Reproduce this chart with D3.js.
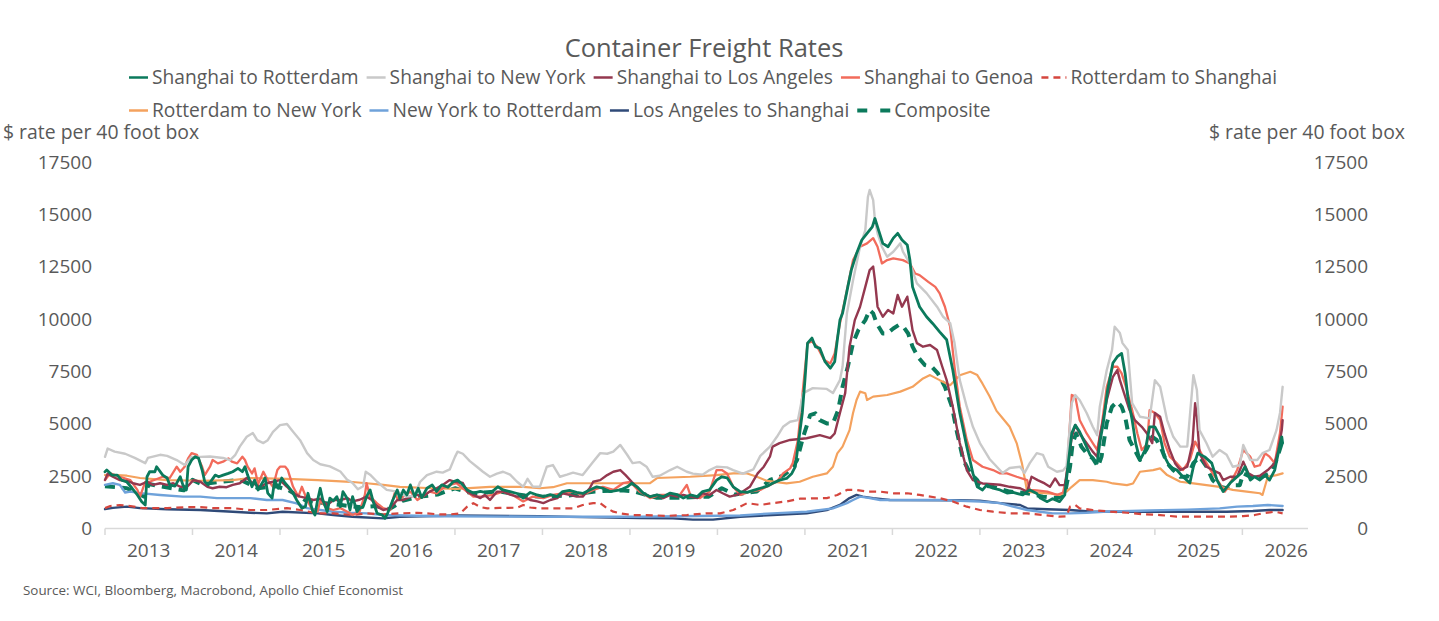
<!DOCTYPE html>
<html><head><meta charset="utf-8">
<script src="https://cdn.jsdelivr.net/npm/d3@7"></script>
<style>
html,body{margin:0;padding:0;background:#fff;}
svg text{font-family:"Open Sans","Noto Sans",sans-serif;fill:#595959;}
</style></head><body>
<svg id="chart" width="1439" height="621"></svg>
<script>
// ---------- DATA (decimal year, $ per 40ft box) ----------
const titleText = "Container Freight Rates";
const axisLabel = "$ rate per 40 foot box";
const sourceText = "Source: WCI, Bloomberg, Macrobond, Apollo Chief Economist";
const yTicks = [0, 2500, 5000, 7500, 10000, 12500, 15000, 17500];
const yearTicks = [2013,2014,2015,2016,2017,2018,2019,2020,2021,2022,2023,2024,2025,2026];

const shanghaiRotterdam = [[2013.00,2690],[2013.02,2770],[2013.08,2530],[2013.14,2530],[2013.19,2290],[2013.25,2200],[2013.31,1900],[2013.37,1580],[2013.42,1260],[2013.46,1100],[2013.48,2450],[2013.51,2690],[2013.57,2690],[2013.59,2930],[2013.66,2530],[2013.71,2390],[2013.74,2060],[2013.80,2000],[2013.86,2450],[2013.89,2060],[2013.93,1820],[2013.95,2930],[2013.99,3250],[2014.03,3410],[2014.07,3330],[2014.11,2770],[2014.14,2210],[2014.18,2060],[2014.22,2290],[2014.26,2530],[2014.30,2450],[2014.35,2530],[2014.41,2610],[2014.46,2690],[2014.52,2850],[2014.57,2690],[2014.60,2930],[2014.63,2530],[2014.68,1970],[2014.71,2290],[2014.75,1820],[2014.79,2100],[2014.83,2390],[2014.86,1670],[2014.91,1430],[2014.94,2290],[2014.98,1900],[2015.02,2390],[2015.06,2140],[2015.09,2000],[2015.14,1740],[2015.19,1340],[2015.25,950],[2015.29,1020],[2015.32,1660],[2015.37,860],[2015.40,620],[2015.43,1340],[2015.46,1900],[2015.49,1340],[2015.54,780],[2015.57,1430],[2015.61,1300],[2015.65,1500],[2015.69,1020],[2015.72,1740],[2015.77,1400],[2015.80,860],[2015.83,1500],[2015.88,780],[2015.91,950],[2015.95,1020],[2015.99,1500],[2016.03,1820],[2016.06,1340],[2016.11,700],[2016.17,620],[2016.20,460],[2016.23,700],[2016.29,1340],[2016.34,1820],[2016.37,1400],[2016.41,1820],[2016.45,1580],[2016.49,2060],[2016.54,1500],[2016.58,1900],[2016.62,1450],[2016.68,1900],[2016.74,2060],[2016.79,1750],[2016.85,2060],[2016.92,1950],[2016.98,2210],[2017.03,2290],[2017.08,2100],[2017.14,1820],[2017.21,1670],[2017.29,1750],[2017.37,1680],[2017.43,1750],[2017.49,1970],[2017.55,1820],[2017.63,1740],[2017.71,1650],[2017.78,1430],[2017.86,1700],[2017.94,1580],[2018.01,1500],[2018.09,1600],[2018.17,1500],[2018.23,1740],[2018.31,1800],[2018.39,1700],[2018.46,1650],[2018.54,1820],[2018.62,1970],[2018.69,1900],[2018.77,1740],[2018.89,1820],[2018.97,1970],[2019.02,2140],[2019.08,1970],[2019.15,1670],[2019.23,1500],[2019.31,1580],[2019.38,1500],[2019.46,1670],[2019.54,1600],[2019.61,1430],[2019.69,1580],[2019.77,1500],[2019.83,1740],[2019.91,1820],[2019.99,2290],[2020.05,2450],[2020.11,2400],[2020.18,1970],[2020.26,1740],[2020.34,1700],[2020.41,1800],[2020.49,1900],[2020.57,2000],[2020.63,2140],[2020.71,2290],[2020.79,2370],[2020.85,2610],[2020.89,2930],[2020.92,3890],[2020.97,5500],[2021.00,7070],[2021.03,8840],[2021.08,9080],[2021.12,8670],[2021.17,8590],[2021.23,7950],[2021.29,7640],[2021.34,7950],[2021.37,8990],[2021.40,9940],[2021.43,10270],[2021.49,11530],[2021.53,12330],[2021.59,13130],[2021.65,13770],[2021.71,14090],[2021.77,14400],[2021.80,14800],[2021.83,14400],[2021.89,13610],[2021.95,13450],[2022.01,13860],[2022.06,14090],[2022.11,13770],[2022.17,13530],[2022.20,12810],[2022.23,11530],[2022.31,10580],[2022.39,10100],[2022.46,9780],[2022.54,9380],[2022.62,9000],[2022.69,7550],[2022.77,5500],[2022.85,3890],[2022.92,2610],[2022.97,1970],[2023.03,1820],[2023.08,2060],[2023.15,1900],[2023.23,1820],[2023.31,1670],[2023.38,1700],[2023.49,1580],[2023.57,1820],[2023.65,1650],[2023.69,1430],[2023.77,1260],[2023.83,1400],[2023.91,1260],[2023.97,1580],[2024.01,3100],[2024.05,4540],[2024.09,4920],[2024.14,4600],[2024.20,4060],[2024.26,3490],[2024.34,3100],[2024.37,4060],[2024.41,5020],[2024.46,6600],[2024.52,7890],[2024.57,8190],[2024.62,8350],[2024.66,7390],[2024.69,6280],[2024.74,5160],[2024.78,4060],[2024.83,3250],[2024.89,3730],[2024.94,4840],[2025.00,4840],[2025.06,4360],[2025.11,3410],[2025.17,2930],[2025.25,2770],[2025.32,2450],[2025.40,2150],[2025.44,2930],[2025.49,3580],[2025.57,3400],[2025.65,3100],[2025.71,2290],[2025.78,1740],[2025.86,2150],[2025.94,2450],[2025.99,2630],[2026.03,2930],[2026.09,2290],[2026.14,2450],[2026.20,2290],[2026.26,2530],[2026.31,2290],[2026.37,2770],[2026.41,3580],[2026.45,4360],[2026.46,4060]];

const shanghaiNewYork = [[2013.00,3400],[2013.03,3800],[2013.11,3650],[2013.23,3550],[2013.34,3350],[2013.46,3100],[2013.49,3350],[2013.63,3500],[2013.71,3450],[2013.82,3250],[2013.91,3010],[2013.99,3400],[2014.09,3400],[2014.20,3420],[2014.35,3350],[2014.43,3250],[2014.49,3500],[2014.54,3890],[2014.62,4360],[2014.69,4540],[2014.74,4200],[2014.81,4060],[2014.86,4200],[2014.92,4600],[2015.00,4920],[2015.08,4970],[2015.15,4600],[2015.23,4200],[2015.31,3580],[2015.38,3250],[2015.46,3050],[2015.57,2950],[2015.69,2700],[2015.77,2300],[2015.83,2150],[2015.89,1850],[2015.95,2000],[2015.98,2690],[2016.03,2550],[2016.11,2210],[2016.22,1820],[2016.34,1740],[2016.45,1500],[2016.54,1550],[2016.60,2200],[2016.68,2530],[2016.79,2690],[2016.86,2650],[2016.94,2800],[2017.00,3400],[2017.03,3650],[2017.09,3550],[2017.17,3200],[2017.25,2930],[2017.32,2690],[2017.40,2450],[2017.48,2600],[2017.55,2690],[2017.63,2550],[2017.71,2210],[2017.78,1970],[2017.83,2350],[2017.89,1980],[2017.97,1970],[2018.05,2930],[2018.12,3010],[2018.20,2450],[2018.28,2550],[2018.35,2650],[2018.46,2530],[2018.58,3170],[2018.66,3580],[2018.74,3550],[2018.81,3650],[2018.89,3970],[2018.97,3490],[2019.03,3100],[2019.11,3150],[2019.19,2930],[2019.26,2450],[2019.34,2500],[2019.46,2770],[2019.54,2930],[2019.65,2690],[2019.72,2600],[2019.83,2550],[2019.91,2770],[2019.99,2930],[2020.11,2900],[2020.18,2770],[2020.29,2600],[2020.41,2800],[2020.49,3450],[2020.60,3890],[2020.68,4360],[2020.75,4840],[2020.83,5080],[2020.92,5160],[2020.98,6450],[2021.09,6690],[2021.25,6650],[2021.32,6450],[2021.40,7070],[2021.43,7710],[2021.48,10270],[2021.55,11850],[2021.63,13450],[2021.69,14240],[2021.72,15830],[2021.74,16160],[2021.78,15680],[2021.80,14720],[2021.83,14090],[2021.88,13450],[2021.94,12970],[2022.01,13210],[2022.09,13610],[2022.12,13210],[2022.20,12650],[2022.28,11700],[2022.39,11230],[2022.51,10580],[2022.58,10100],[2022.66,9800],[2022.71,8840],[2022.77,7070],[2022.85,5800],[2022.92,4840],[2023.00,4060],[2023.11,3300],[2023.26,2630],[2023.34,2870],[2023.46,2930],[2023.51,2630],[2023.57,3100],[2023.65,3580],[2023.72,3500],[2023.78,2930],[2023.88,2690],[2023.95,2750],[2023.99,2950],[2024.05,5970],[2024.09,6360],[2024.14,6120],[2024.22,5500],[2024.29,4840],[2024.34,4440],[2024.37,5800],[2024.45,7550],[2024.51,8510],[2024.54,9620],[2024.60,9320],[2024.63,8840],[2024.69,8510],[2024.74,5970],[2024.83,5320],[2024.94,5240],[2025.00,7070],[2025.06,6750],[2025.14,5160],[2025.21,4360],[2025.29,3890],[2025.37,3900],[2025.44,7310],[2025.48,6600],[2025.51,4680],[2025.59,4050],[2025.66,3410],[2025.74,3730],[2025.82,3500],[2025.89,2930],[2025.97,3000],[2026.01,3970],[2026.09,3250],[2026.17,3250],[2026.23,3580],[2026.31,3730],[2026.39,4680],[2026.43,5500],[2026.46,6750]];

const shanghaiLosAngeles = [[2013.00,2300],[2013.03,2600],[2013.09,2450],[2013.17,2290],[2013.25,2250],[2013.32,2140],[2013.40,2060],[2013.48,2210],[2013.55,2060],[2013.63,2140],[2013.71,2060],[2013.78,2140],[2013.86,1970],[2013.94,1970],[2014.01,2290],[2014.09,2210],[2014.17,1970],[2014.23,1900],[2014.31,1970],[2014.39,1950],[2014.46,2060],[2014.54,2140],[2014.62,2390],[2014.69,2140],[2014.77,1970],[2014.85,2140],[2014.92,2210],[2015.00,2290],[2015.08,1970],[2015.15,1660],[2015.23,1500],[2015.31,1430],[2015.38,1340],[2015.46,1400],[2015.54,1100],[2015.61,1340],[2015.69,1340],[2015.77,1430],[2015.83,1270],[2015.91,1350],[2015.99,1500],[2016.05,1340],[2016.11,1020],[2016.18,860],[2016.26,950],[2016.34,1340],[2016.41,1340],[2016.49,1500],[2016.57,1580],[2016.63,1500],[2016.71,1740],[2016.79,1900],[2016.86,2060],[2016.94,2290],[2017.00,2210],[2017.09,2150],[2017.14,1740],[2017.21,1580],[2017.29,1430],[2017.34,1580],[2017.40,1340],[2017.48,1740],[2017.55,1740],[2017.63,1600],[2017.71,1500],[2017.78,1500],[2017.86,1340],[2017.94,1270],[2018.01,1190],[2018.09,1340],[2018.17,1430],[2018.23,1660],[2018.31,1580],[2018.39,1500],[2018.46,1500],[2018.54,1900],[2018.58,2210],[2018.66,2290],[2018.74,2530],[2018.81,2690],[2018.89,2770],[2018.95,2530],[2019.02,2210],[2019.08,1970],[2019.15,1670],[2019.23,1500],[2019.31,1580],[2019.38,1430],[2019.46,1580],[2019.54,1500],[2019.61,1580],[2019.69,1500],[2019.77,1430],[2019.83,1660],[2019.91,1580],[2019.99,1820],[2020.06,1660],[2020.14,1500],[2020.22,1580],[2020.29,1740],[2020.37,1970],[2020.46,2610],[2020.53,2930],[2020.60,3410],[2020.63,3890],[2020.71,4060],[2020.83,4210],[2021.02,4290],[2021.17,4440],[2021.29,4300],[2021.34,4520],[2021.40,5500],[2021.46,6450],[2021.51,8670],[2021.57,9940],[2021.63,10580],[2021.69,11530],[2021.74,12330],[2021.78,12500],[2021.80,11850],[2021.83,10580],[2021.89,10100],[2021.95,10420],[2022.01,10260],[2022.06,11140],[2022.11,10580],[2022.17,11060],[2022.20,10260],[2022.23,9460],[2022.28,8840],[2022.35,8670],[2022.43,8750],[2022.51,8510],[2022.57,7710],[2022.62,7070],[2022.69,5800],[2022.77,4060],[2022.85,2770],[2022.92,2290],[2023.03,2130],[2023.23,2070],[2023.34,1970],[2023.46,1900],[2023.54,1740],[2023.59,2450],[2023.66,2290],[2023.74,2130],[2023.80,1970],[2023.86,2370],[2023.91,2050],[2023.97,2050],[2024.01,3100],[2024.05,4360],[2024.09,4920],[2024.14,4520],[2024.22,4060],[2024.29,3650],[2024.34,3410],[2024.37,4360],[2024.45,6120],[2024.52,7230],[2024.57,7550],[2024.60,7070],[2024.63,6680],[2024.71,5640],[2024.77,5160],[2024.85,4840],[2024.91,4520],[2024.97,4060],[2025.00,5500],[2025.06,5320],[2025.11,4520],[2025.17,3730],[2025.23,3100],[2025.29,2770],[2025.37,2930],[2025.43,4060],[2025.46,5970],[2025.48,5320],[2025.51,3570],[2025.59,2930],[2025.66,2770],[2025.74,2610],[2025.78,2290],[2025.86,2450],[2025.94,2450],[2026.01,3170],[2026.07,2610],[2026.14,2450],[2026.20,2500],[2026.29,2770],[2026.37,3100],[2026.41,3730],[2026.45,4680],[2026.46,5160]];

const shanghaiGenoa = [[2013.00,2290],[2013.06,2610],[2013.17,2450],[2013.29,2290],[2013.37,1820],[2013.40,1500],[2013.46,2210],[2013.51,2210],[2013.66,2450],[2013.74,2390],[2013.82,2930],[2013.86,2690],[2013.91,2930],[2013.95,3330],[2013.99,3580],[2014.05,3500],[2014.11,2930],[2014.14,2530],[2014.20,2930],[2014.23,3250],[2014.29,3090],[2014.35,3170],[2014.41,3330],[2014.45,3170],[2014.51,3090],[2014.57,3410],[2014.60,3250],[2014.63,2930],[2014.68,2610],[2014.71,2850],[2014.75,2100],[2014.81,2690],[2014.86,2290],[2014.92,1970],[2014.97,2770],[2015.00,2930],[2015.06,2930],[2015.09,2770],[2015.15,1970],[2015.21,1500],[2015.25,1970],[2015.31,1340],[2015.37,860],[2015.43,780],[2015.46,1300],[2015.54,950],[2015.61,860],[2015.69,950],[2015.77,780],[2015.83,620],[2015.91,780],[2015.97,1580],[2015.99,2140],[2016.03,1500],[2016.11,1180],[2016.18,950],[2016.26,860],[2016.31,1660],[2016.35,1340],[2016.41,1500],[2016.49,1740],[2016.57,1340],[2016.63,1500],[2016.71,1740],[2016.79,1660],[2016.86,1900],[2016.94,2060],[2017.02,2140],[2017.09,1900],[2017.21,1500],[2017.32,1500],[2017.43,1580],[2017.55,1740],[2017.66,1580],[2017.78,1270],[2017.89,1500],[2018.01,1430],[2018.12,1580],[2018.23,1660],[2018.35,1740],[2018.46,1580],[2018.58,1820],[2018.69,1970],[2018.81,1820],[2018.92,2140],[2019.00,2210],[2019.11,1740],[2019.23,1430],[2019.34,1580],[2019.46,1580],[2019.57,1580],[2019.65,2060],[2019.69,1580],[2019.80,1430],[2019.91,1740],[2019.99,2770],[2020.05,2770],[2020.11,2610],[2020.18,1970],[2020.26,1580],[2020.37,1740],[2020.49,1820],[2020.60,2060],[2020.68,2210],[2020.75,2610],[2020.83,2850],[2020.86,3090],[2020.92,4210],[2020.98,6750],[2021.03,8840],[2021.08,8920],[2021.14,8670],[2021.22,8030],[2021.29,7870],[2021.34,8350],[2021.40,9780],[2021.48,11370],[2021.55,12810],[2021.63,13450],[2021.71,13610],[2021.78,13860],[2021.83,13450],[2021.88,12650],[2021.94,12810],[2022.01,12890],[2022.12,12810],[2022.20,12650],[2022.26,12170],[2022.31,12090],[2022.41,11770],[2022.49,11530],[2022.54,11220],[2022.60,10580],[2022.66,9620],[2022.71,7710],[2022.77,5800],[2022.85,4210],[2022.92,3250],[2023.03,2930],[2023.15,2770],[2023.23,2610],[2023.31,2610],[2023.42,2450],[2023.54,2290],[2023.57,1820],[2023.65,1800],[2023.77,1740],[2023.88,1580],[2023.95,1700],[2023.99,2450],[2024.05,6360],[2024.09,6280],[2024.14,5160],[2024.22,4520],[2024.29,4060],[2024.34,3730],[2024.39,4840],[2024.45,6750],[2024.52,7710],[2024.57,7710],[2024.62,7390],[2024.68,6600],[2024.74,5640],[2024.80,4520],[2024.85,3730],[2024.91,4000],[2024.94,5640],[2025.00,5500],[2025.06,5160],[2025.11,4060],[2025.17,3410],[2025.25,3100],[2025.32,2770],[2025.40,3250],[2025.46,4130],[2025.51,3730],[2025.59,3100],[2025.66,2610],[2025.74,2130],[2025.80,1740],[2025.88,2290],[2025.94,2770],[2026.01,3730],[2026.09,3410],[2026.14,2930],[2026.20,3000],[2026.26,3570],[2026.31,3410],[2026.37,3100],[2026.43,4540],[2026.46,5800]];

const rotterdamShanghai = [[2013.00,950],[2013.06,1050],[2013.17,1100],[2013.29,1050],[2013.43,950],[2013.71,950],[2013.94,1000],[2014.09,1000],[2014.23,950],[2014.46,950],[2014.66,860],[2014.85,860],[2015.08,950],[2015.23,860],[2015.43,700],[2015.61,700],[2015.83,620],[2015.99,700],[2016.18,650],[2016.37,700],[2016.57,730],[2016.83,650],[2016.94,650],[2017.06,700],[2017.14,1020],[2017.21,1190],[2017.29,1000],[2017.37,940],[2017.51,960],[2017.71,970],[2017.78,1100],[2017.86,980],[2017.97,940],[2018.17,940],[2018.35,940],[2018.46,1100],[2018.58,1190],[2018.66,1190],[2018.74,940],[2018.81,780],[2018.89,700],[2019.03,620],[2019.19,620],[2019.42,580],[2019.65,620],[2019.88,700],[2020.03,700],[2020.11,780],[2020.18,860],[2020.26,1020],[2020.34,1190],[2020.49,1100],[2020.63,1190],[2020.79,1270],[2020.94,1400],[2021.25,1430],[2021.37,1580],[2021.48,1820],[2021.59,1820],[2021.71,1740],[2021.86,1740],[2022.01,1660],[2022.17,1660],[2022.31,1580],[2022.54,1430],[2022.69,1270],[2022.85,1020],[2023.00,860],[2023.15,780],[2023.34,700],[2023.54,700],[2023.72,620],[2023.91,540],[2023.99,560],[2024.03,1020],[2024.09,1100],[2024.14,940],[2024.29,860],[2024.49,780],[2024.68,730],[2024.86,660],[2025.06,620],[2025.25,540],[2025.44,540],[2025.63,540],[2025.82,540],[2026.01,570],[2026.14,620],[2026.23,700],[2026.37,780],[2026.46,700]];

const rotterdamNewYork = [[2013.00,2530],[2013.14,2530],[2013.25,2500],[2013.40,2390],[2013.71,2290],[2014.09,2260],[2014.46,2290],[2014.66,2390],[2015.08,2350],[2015.43,2290],[2015.80,2210],[2015.99,2140],[2016.18,2060],[2016.37,1970],[2016.75,1900],[2017.02,1870],[2017.40,1970],[2017.78,1970],[2017.97,1900],[2018.12,1950],[2018.28,2140],[2018.74,2140],[2019.23,2140],[2019.31,2390],[2019.69,2450],[2019.99,2530],[2020.18,2610],[2020.34,2610],[2020.45,2450],[2020.57,2250],[2020.79,2130],[2020.94,2210],[2021.09,2450],[2021.25,2610],[2021.32,2930],[2021.37,3570],[2021.43,3890],[2021.51,4680],[2021.55,5500],[2021.59,6120],[2021.63,6520],[2021.69,6440],[2021.71,6120],[2021.78,6280],[2021.94,6360],[2022.09,6520],[2022.23,6750],[2022.35,7150],[2022.43,7310],[2022.54,7070],[2022.66,6830],[2022.77,7300],[2022.89,7470],[2022.97,7310],[2023.03,6900],[2023.11,6300],[2023.19,5600],[2023.26,5250],[2023.34,4840],[2023.42,4060],[2023.48,3100],[2023.54,1740],[2023.61,1700],[2023.77,1660],[2023.91,1580],[2023.99,1740],[2024.05,1970],[2024.14,2290],[2024.29,2290],[2024.45,2210],[2024.52,2130],[2024.68,2050],[2024.75,2130],[2024.83,2690],[2024.98,2770],[2025.06,2850],[2025.14,2530],[2025.29,2210],[2025.44,2130],[2025.59,2050],[2025.74,1970],[2025.89,1820],[2026.05,1740],[2026.20,1660],[2026.23,1580],[2026.29,2450],[2026.39,2530],[2026.46,2610]];

const newYorkRotterdam = [[2013.00,2060],[2013.09,2140],[2013.17,2060],[2013.23,1700],[2013.29,1740],[2013.40,1670],[2013.63,1580],[2013.89,1500],[2014.09,1500],[2014.28,1430],[2014.66,1430],[2014.85,1340],[2015.03,1340],[2015.19,1180],[2015.31,950],[2015.46,860],[2015.61,780],[2015.80,730],[2015.99,700],[2016.18,620],[2016.83,560],[2017.97,540],[2019.11,540],[2020.26,600],[2020.63,700],[2021.02,780],[2021.32,940],[2021.48,1190],[2021.55,1340],[2021.63,1500],[2021.71,1450],[2021.86,1340],[2022.54,1340],[2023.00,1270],[2023.23,1190],[2023.38,1020],[2023.54,860],[2023.69,780],[2023.83,700],[2024.03,700],[2024.22,730],[2024.41,780],[2024.94,840],[2025.37,880],[2025.74,940],[2025.94,1020],[2026.12,1050],[2026.29,1100],[2026.46,1050]];

const losAngelesShanghai = [[2013.00,900],[2013.09,960],[2013.25,1020],[2013.40,950],[2013.71,900],[2014.09,860],[2014.46,780],[2014.66,730],[2014.85,700],[2015.03,780],[2015.43,700],[2015.61,620],[2015.83,540],[2016.18,460],[2016.37,540],[2017.02,600],[2017.97,560],[2018.46,520],[2019.11,480],[2019.49,460],[2019.72,400],[2019.95,400],[2020.26,540],[2020.63,620],[2021.02,700],[2021.25,860],[2021.40,1100],[2021.51,1430],[2021.59,1580],[2021.66,1500],[2021.78,1430],[2021.97,1340],[2022.77,1330],[2023.00,1300],[2023.23,1190],[2023.46,1100],[2023.54,940],[2023.77,900],[2024.03,860],[2024.29,780],[2025.82,780],[2026.12,810],[2026.31,860],[2026.46,860]];

const composite = [[2013.00,2000],[2013.25,1900],[2013.45,1500],[2013.50,2100],[2013.70,1950],[2013.90,1800],[2014.00,2300],[2014.10,2100],[2014.30,2200],[2014.55,2300],[2014.75,1900],[2014.95,2000],[2015.10,1800],[2015.30,1300],[2015.50,1200],[2015.70,1100],[2015.90,1000],[2016.10,1050],[2016.25,900],[2016.40,1300],[2016.60,1500],[2016.80,1600],[2017.00,1900],[2017.20,1650],[2017.50,1750],[2017.80,1550],[2018.00,1500],[2018.30,1550],[2018.60,1750],[2018.90,1800],[2019.05,1750],[2019.30,1450],[2019.60,1450],[2019.90,1500],[2020.05,1900],[2020.20,1600],[2020.45,1750],[2020.60,2300],[2020.75,2500],[2020.83,2770],[2020.91,3250],[2020.98,4360],[2021.06,5400],[2021.12,5480],[2021.17,5160],[2021.25,5000],[2021.32,5000],[2021.38,5640],[2021.43,6750],[2021.49,7710],[2021.55,8840],[2021.61,9460],[2021.69,9940],[2021.74,10420],[2021.78,10260],[2021.82,9780],[2021.89,9300],[2021.94,9300],[2022.01,9540],[2022.07,9700],[2022.12,9650],[2022.18,9300],[2022.23,8670],[2022.29,8190],[2022.37,7790],[2022.45,7710],[2022.52,7390],[2022.60,6750],[2022.68,5800],[2022.74,4540],[2022.81,3250],[2022.89,2610],[2022.97,2290],[2023.00,2060],[2023.15,1970],[2023.34,1740],[2023.54,1660],[2023.72,1500],[2023.88,1430],[2023.97,1600],[2024.03,2930],[2024.06,4060],[2024.10,4520],[2024.16,3890],[2024.22,3570],[2024.29,3330],[2024.35,2930],[2024.39,3410],[2024.45,5020],[2024.51,5800],[2024.57,6040],[2024.62,5800],[2024.66,5320],[2024.71,4210],[2024.77,3730],[2024.83,3250],[2024.91,3800],[2024.97,4360],[2025.02,4210],[2025.08,3730],[2025.14,3100],[2025.21,2770],[2025.29,2450],[2025.37,2450],[2025.44,3100],[2025.51,3410],[2025.59,2930],[2025.66,2290],[2025.74,1970],[2025.82,1900],[2025.89,2050],[2025.97,2050],[2026.01,2610],[2026.09,2450],[2026.17,2290],[2026.23,2450],[2026.31,2610],[2026.39,3250],[2026.45,4060],[2026.46,4360]];

const seriesNames = ["Shanghai to Rotterdam","Shanghai to New York","Shanghai to Los Angeles","Shanghai to Genoa","Rotterdam to Shanghai","Rotterdam to New York","New York to Rotterdam","Los Angeles to Shanghai","Composite"];
const seriesValues = [shanghaiRotterdam, shanghaiNewYork, shanghaiLosAngeles, shanghaiGenoa, rotterdamShanghai, rotterdamNewYork, newYorkRotterdam, losAngelesShanghai, composite];

// ---------- STYLES ----------
const styles = [
  {color:"#0b7a5c", width:2.8, dash:null},
  {color:"#c9c9c9", width:2.4, dash:null},
  {color:"#94384f", width:2.4, dash:null},
  {color:"#f26b5b", width:2.3, dash:null},
  {color:"#d5463e", width:2.2, dash:"7,5"},
  {color:"#f4a25e", width:2.2, dash:null},
  {color:"#6fa2da", width:2.4, dash:null},
  {color:"#2f4a78", width:2.4, dash:null},
  {color:"#0b7a5c", width:4, dash:"10,7"}
];

// ---------- DRAW ----------
const svg = d3.select("#chart");
const x = d3.scaleLinear().domain([2013, 2026.75]).range([105, 1308]);
const y = d3.scaleLinear().domain([0, 17500]).range([528, 162]);

// title
svg.append("text").attr("x", 704).attr("y", 57).attr("text-anchor","middle")
  .style("font-size","25.5px").text(titleText);

// axis titles
svg.append("text").attr("x", 3).attr("y", 139).style("font-size","19.4px").text(axisLabel);
svg.append("text").attr("x", 1405).attr("y", 139).attr("text-anchor","end").style("font-size","19.4px").text(axisLabel);

// y tick labels
const yl = svg.append("g");
yTicks.forEach(v => {
  yl.append("text").attr("x", 92).attr("y", y(v)).attr("dy","0.36em").attr("text-anchor","end")
    .style("font-size","19px").text(v);
  yl.append("text").attr("x", 1368).attr("y", y(v)).attr("dy","0.36em").attr("text-anchor","end")
    .style("font-size","19px").text(v);
});

// x axis line and ticks
const xa = svg.append("g");
xa.append("line").attr("x1", x(2013)).attr("x2", x(2026.75)).attr("y1", 528.5).attr("y2", 528.5)
  .attr("stroke","#d9d9d9").attr("stroke-width",1.5);
yearTicks.forEach(t => {
  xa.append("line").attr("x1", x(t)).attr("x2", x(t)).attr("y1", 528.5).attr("y2", 535)
    .attr("stroke","#d9d9d9").attr("stroke-width",1.5);
  xa.append("text").attr("x", x(t + 0.5)).attr("y", 557).attr("text-anchor","middle")
    .style("font-size","19px").text(t);
});

// lines (first legend entry on top)
const line = d3.line().x(d => x(d[0])).y(d => y(d[1])).curve(d3.curveLinear);
const lg = svg.append("g");
for (let i = seriesValues.length - 1; i >= 0; i--) {
  const p = lg.append("path").datum(seriesValues[i]).attr("d", line)
    .attr("fill","none").attr("stroke", styles[i].color).attr("stroke-width", styles[i].width)
    .attr("stroke-linejoin","round").attr("stroke-linecap", styles[i].dash ? "butt" : "round");
  if (styles[i].dash) p.attr("stroke-dasharray", styles[i].dash);
}

// legend (flow layout)
const leg = svg.append("g");
const rows = [[0,1,2,3,4],[5,6,7,8]];
const rowY = [77.5, 110.5];
rows.forEach((row, ri) => {
  let cx = 129;
  row.forEach(i => {
    const s = styles[i];
    const sw = s.dash ? (i === 8 ? 33 : 25) : 19;
    const sl = leg.append("line").attr("x1", cx).attr("x2", cx + sw).attr("y1", rowY[ri]).attr("y2", rowY[ri])
      .attr("stroke", s.color).attr("stroke-width", i === 8 ? 4 : 2.5);
    if (s.dash) sl.attr("stroke-dasharray", i === 8 ? "10,13" : "7,5");
    cx += sw + 4;
    const t = leg.append("text").attr("x", cx).attr("y", rowY[ri]).attr("dy","0.35em")
      .style("font-size","19.2px").text(seriesNames[i]);
    cx += t.node().getComputedTextLength() + 8;
  });
});

// source
svg.append("text").attr("x", 23).attr("y", 595).style("font-size","13.4px").text(sourceText);
</script>
</body></html>
